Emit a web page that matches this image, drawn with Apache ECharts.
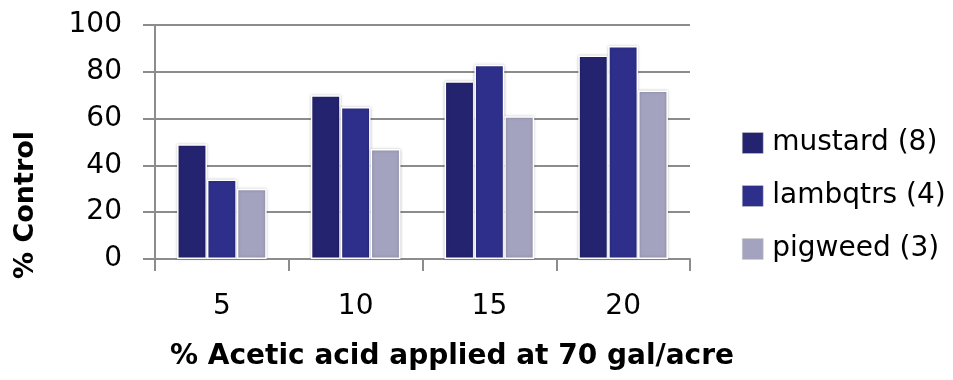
<!DOCTYPE html>
<html><head><meta charset="utf-8">
<script src="https://cdn.jsdelivr.net/npm/echarts@6/dist/echarts.min.js"></script>
<style>html,body{margin:0;padding:0;background:#fff}#c{width:953px;height:380px}</style>
</head><body><div id="c"></div>
<script>
const categories = ['5', '10', '15', '20'];
const mustard = [49, 70, 76, 87];
const lambqtrs = [34, 65, 83, 91];
const pigweed = [30, 47, 61, 72];
const seriesNames = ['mustard (8)', 'lambqtrs (4)', 'pigweed (3)'];
const colors = ['#24236F', '#2E2F8A', '#A3A3BF'];
const yTicks = [0, 20, 40, 60, 80, 100];
const xTitle = '% Acetic acid applied at 70 gal/acre';
const yTitle = '% Control';
const FONT = '"DejaVu Sans", sans-serif';

const chart = echarts.init(document.getElementById('c'), null, {renderer: 'canvas'});
const mk = (name, data, i) => ({
  name, type: 'bar', data,
  barGap: '0%', barCategoryGap: '33%',
  itemStyle: {color: colors[i], borderColor: '#fff', borderWidth: 1.5,
    shadowColor: 'rgba(0,0,0,0.25)', shadowBlur: 3},
});
chart.setOption({
  animation: false,
  color: colors,
  grid: {left: 155, right: 263, top: 25, bottom: 121},
  legend: {
    orient: 'vertical', left: 737, top: 124, itemGap: 25,
    itemWidth: 21, itemHeight: 21, icon: 'rect',
    textStyle: {fontFamily: FONT, fontSize: 28, lineHeight: 21, color: '#000', padding: [0, 0, 0, 4]},
    itemStyle: {borderColor: '#ccc', borderWidth: 0.5}
  },
  xAxis: {
    type: 'category', data: categories,
    axisLine: {lineStyle: {color: '#8c8c8c', width: 2}},
    axisTick: {show: true, length: 12, lineStyle: {color: '#8c8c8c', width: 2}},
    axisLabel: {fontFamily: FONT, fontSize: 28, color: '#000', margin: 34}
  },
  yAxis: {
    type: 'value', min: 0, max: 100, interval: 20,
    axisLine: {show: true, lineStyle: {color: '#8c8c8c', width: 2}},
    axisTick: {show: true, length: 12, lineStyle: {color: '#8c8c8c', width: 2}},
    splitLine: {lineStyle: {color: '#8c8c8c', width: 2}},
    axisLabel: {fontFamily: FONT, fontSize: 28, color: '#000', margin: 33,
      formatter: v => yTicks.includes(v) ? String(v) : ''}
  },
  graphic: [{
    type: 'text', x: 25.5, y: 205, rotation: Math.PI / 2,
    style: {text: yTitle, font: 'bold 27px ' + FONT, fill: '#000', align: 'center', verticalAlign: 'middle'}
  }, {
    type: 'text', x: 452, y: 357,
    style: {text: xTitle, font: 'bold 28px ' + FONT, fill: '#000', align: 'center', verticalAlign: 'middle'}
  }],
  series: [mk(seriesNames[0], mustard, 0), mk(seriesNames[1], lambqtrs, 1), mk(seriesNames[2], pigweed, 2)]
});
</script></body></html>
